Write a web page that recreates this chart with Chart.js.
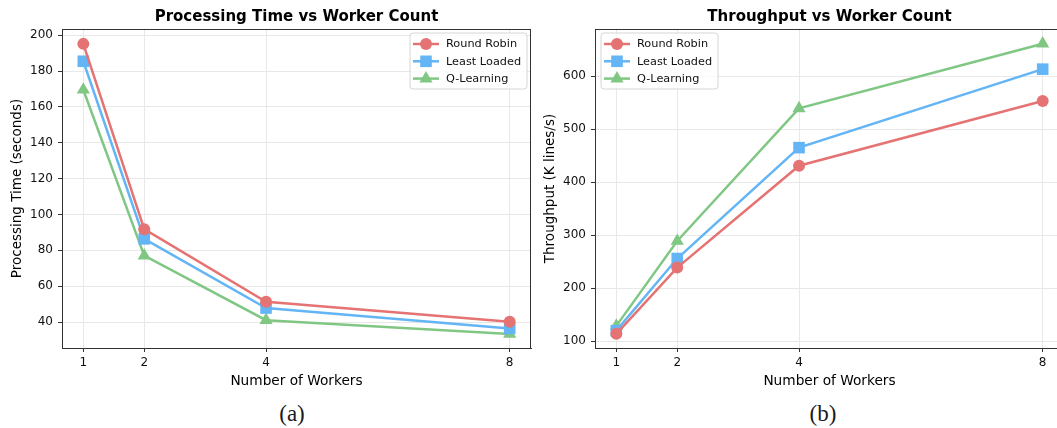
<!DOCTYPE html>
<html>
<head>
<meta charset="utf-8">
<script src="https://cdn.jsdelivr.net/npm/chart.js@4.4.1/dist/chart.umd.min.js"></script>
<style>
  body { margin: 0; background: #fff; width: 1057px; height: 428px; position: relative; overflow: hidden; }
  .panel { position: absolute; top: 0; width: 540px; height: 395px; }
  .caption { position: absolute; top: 401px; font-family: "Liberation Serif", "Times New Roman", serif; font-size: 23px; color: #1a1a1a; transform: translateX(-50%); }
</style>
</head>
<body>
<div class="panel" style="left:0"><canvas id="timeChart" width="540" height="395"></canvas></div>
<div class="panel" style="left:533px"><canvas id="tputChart" width="540" height="395"></canvas></div>
<div class="caption" style="left:292px">(a)</div>
<div class="caption" style="left:823px">(b)</div>
<script>
// worker counts on the x axis
const workers = [1, 2, 4, 8];
const seriesNames = ["Round Robin", "Least Loaded", "Q-Learning"];

// processing time (seconds)
const timeRoundRobin = [195.2, 91.8, 51.3, 40.2];
const timeLeastLoaded = [185.5, 86.4, 47.8, 36.4];
const timeQLearning = [169.6, 77, 41, 33.3];

// throughput (K lines/s)
const tputRoundRobin = [114, 239, 431, 553];
const tputLeastLoaded = [120, 256, 465, 613];
const tputQLearning = [129, 289, 539, 661];

// tick labels
const workerTicks = [1, 2, 4, 8];
const timeTicks = [40, 60, 80, 100, 120, 140, 160, 180, 200];
const tputTicks = [100, 200, 300, 400, 500, 600];

const colors = ["#e57373", "#64b5f6", "#81c784"];
const markers = ["circle", "rect", "triangle"];
const markerSize = [6, 8.2, 7.6];
const font = "DejaVu Sans";

function drawMarker(ctx, style, x, y, r) {
  ctx.beginPath();
  if (style === "circle") {
    ctx.arc(x, y, r, 0, Math.PI * 2);
  } else if (style === "rect") {
    const s = r * Math.SQRT1_2;
    ctx.rect(x - s, y - s, 2 * s, 2 * s);
  } else {
    ctx.moveTo(x, y - r);
    ctx.lineTo(x + r * Math.sin(2 * Math.PI / 3), y - r * Math.cos(2 * Math.PI / 3));
    ctx.lineTo(x + r * Math.sin(4 * Math.PI / 3), y - r * Math.cos(4 * Math.PI / 3));
    ctx.closePath();
  }
  ctx.fill();
}

// frame, title and in-axes legend like matplotlib
const framePlugin = {
  id: "frame",
  afterDatasetsDraw(chart, args, opts) {
    const { ctx, chartArea: a } = chart;
    ctx.save();
    ctx.strokeStyle = "#333";
    ctx.lineWidth = 1;
    ctx.strokeRect(a.left + 0.5, a.top + 0.5, a.right - a.left - 1, a.bottom - a.top);

    // title
    ctx.fillStyle = "#000";
    ctx.font = "bold 15px '" + font + "'";
    ctx.textAlign = "center";
    ctx.textBaseline = "middle";
    ctx.fillText(opts.title, (a.left + a.right) / 2, 17);

    // legend
    const w = 117, h = 56;
    const bx = opts.legend === "right" ? a.right - 4 - w : a.left + 6;
    const by = a.top + 4;
    ctx.fillStyle = "rgba(255,255,255,0.8)";
    ctx.strokeStyle = "#d6d6d6";
    ctx.beginPath();
    ctx.roundRect(bx, by, w, h, 3);
    ctx.fill();
    ctx.stroke();
    ctx.font = "11.3px '" + font + "'";
    ctx.textAlign = "left";
    chart.data.datasets.forEach((ds, i) => {
      const y = by + 11 + i * 17.3;
      ctx.strokeStyle = ds.borderColor;
      ctx.lineWidth = 2.5;
      ctx.beginPath();
      ctx.moveTo(bx + 3, y);
      ctx.lineTo(bx + 29, y);
      ctx.stroke();
      ctx.fillStyle = ds.borderColor;
      drawMarker(ctx, ds.pointStyle, bx + 16, y, ds.pointRadius);
      ctx.fillStyle = "#111";
      ctx.fillText(ds.label, bx + 36, y + 0.5);
    });
    ctx.restore();
  }
};

function makeChart(id, title, yTitle, yMin, yMax, yTicks, series, legendSide) {
  const ctx = document.getElementById(id).getContext("2d");
  return new Chart(ctx, {
    type: "line",
    data: {
      datasets: series.map((vals, i) => ({
        label: seriesNames[i],
        data: workers.map((w, j) => ({ x: w, y: vals[j] })),
        borderColor: colors[i],
        backgroundColor: colors[i],
        pointBackgroundColor: colors[i],
        pointBorderColor: colors[i],
        pointStyle: markers[i],
        pointRadius: markerSize[i],
        pointBorderWidth: 0,
        borderWidth: 2.5,
        tension: 0,
        fill: false,
      })),
    },
    options: {
      responsive: false,
      animation: false,
      devicePixelRatio: 1,
      layout: { padding: { top: 29, right: 9, bottom: 0, left: 0 } },
      plugins: {
        legend: { display: false },
        tooltip: { enabled: false },
        frame: { title: title, legend: legendSide },
      },
      scales: {
        x: {
          type: "linear",
          min: 0.65,
          max: 8.35,
          afterBuildTicks: (s) => { s.ticks = workerTicks.map((v) => ({ value: v })); },
          afterFit: (s) => { s.height = 47; },
          ticks: { color: "#111", font: { family: font, size: 12 }, padding: 4, maxRotation: 0 },
          grid: { color: "#e8e8e8", tickColor: "#333", tickLength: 4 },
          border: { color: "#333" },
          title: { display: true, text: "Number of Workers", color: "#000", font: { family: font, size: 13.7 }, padding: { top: 0, bottom: 5 } },
        },
        y: {
          min: yMin,
          max: yMax,
          afterBuildTicks: (s) => { s.ticks = yTicks.map((v) => ({ value: v })); },
          afterFit: (s) => { s.width = 62; },
          ticks: { color: "#111", font: { family: font, size: 12 }, padding: 5 },
          grid: { color: "#e8e8e8", tickColor: "#333", tickLength: 4 },
          border: { color: "#333" },
          title: { display: true, text: yTitle, color: "#000", font: { family: font, size: 13.5 }, padding: { top: 9, bottom: 0 } },
        },
      },
    },
    plugins: [framePlugin],
  });
}

makeChart("timeChart", "Processing Time vs Worker Count", "Processing Time (seconds)",
  25.5, 203.5, timeTicks, [timeRoundRobin, timeLeastLoaded, timeQLearning], "right");
makeChart("tputChart", "Throughput vs Worker Count", "Throughput (K lines/s)",
  87.3, 688.7, tputTicks, [tputRoundRobin, tputLeastLoaded, tputQLearning], "left");
</script>
</body>
</html>
